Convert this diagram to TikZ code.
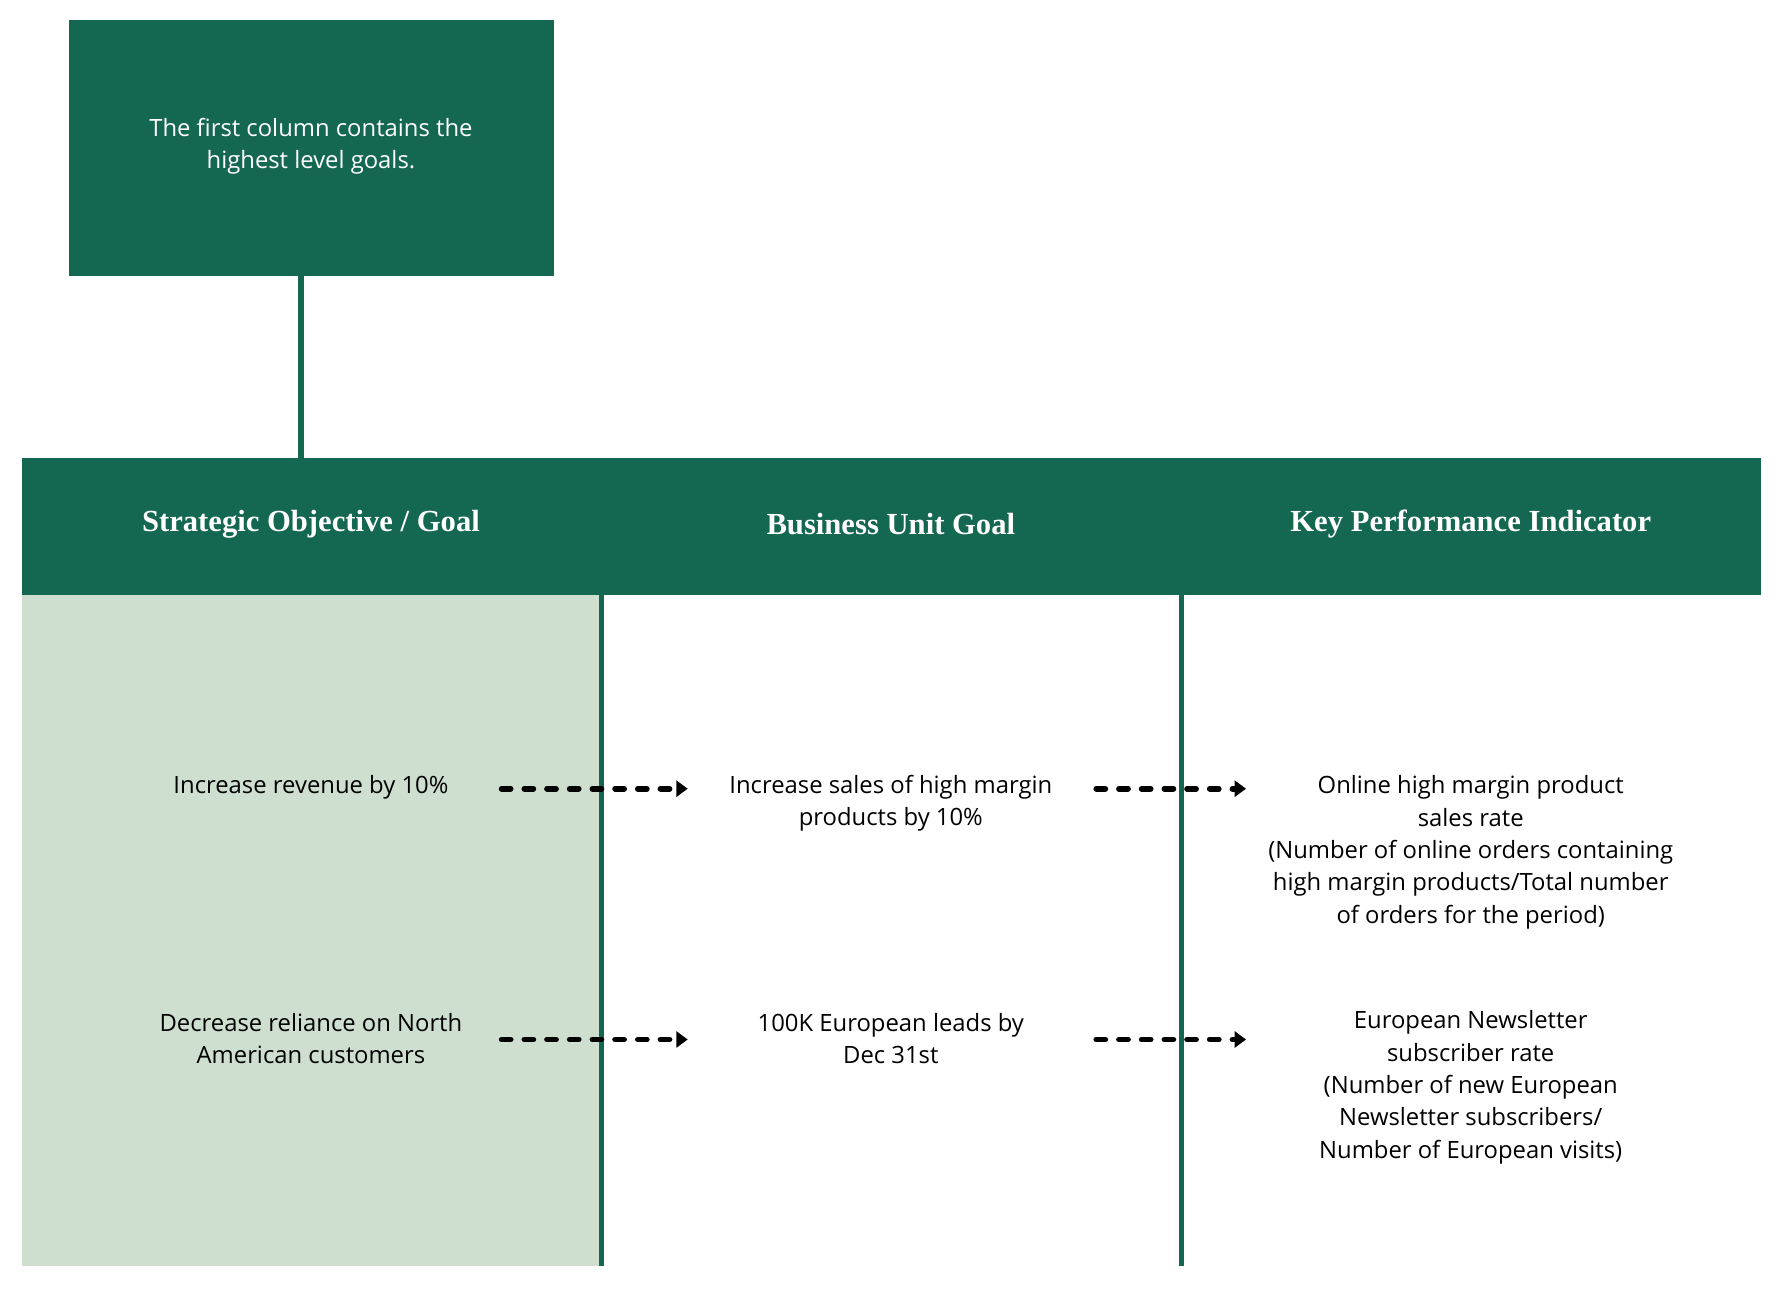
\documentclass[tikz,border=0pt]{standalone}
\usepackage{fontspec}
\setmainfont{Open Sans}
\newfontfamily\headfont{Liberation Serif}
\usetikzlibrary{arrows.meta}
\definecolor{darkgreen}{HTML}{146751}
\definecolor{palegreen}{HTML}{CEDFCF}
\tikzstyle{cell}=[align=center, text=black, font=\fontsize{10.5}{14.25}\selectfont]
\tikzstyle{head}=[text=white, font=\headfont\bfseries\fontsize{13.5}{16}\selectfont]
\tikzstyle{flow}=[line width=2.5pt, dash pattern=on 4pt off 6pt, line cap=round, -{Triangle[length=5pt,width=7pt]}]

\begin{document}
\begin{tikzpicture}[x=0.5pt, y=-0.5pt]
\useasboundingbox (0,0) rectangle (1565,1138);
% Panels
    \fill[darkgreen] (61,18) rectangle (488,243);
    \fill[darkgreen] (19,404) rectangle (1552,524);
    \fill[palegreen] (19,524) rectangle (530,1116);
    \draw[darkgreen, line width=2.5pt] (265,243) -- (265,404);
    \draw[darkgreen, line width=2.5pt] (530,524) -- (530,1116);
    \draw[darkgreen, line width=2.5pt] (1041,524) -- (1041,1116);
% Note
    \node[cell, text=white] (note) at (274,129) {The first column contains the\\highest level goals.};
% Headers
    \node[head] (hgoal) at (274,462) {Strategic Objective / Goal};
    \node[head] (hunit) at (785,462) {Business Unit Goal};
    \node[head] (hkpi) at (1296,462) {Key Performance Indicator};
% First row
    \node[cell] (goala) at (274,694) {Increase revenue by 10\%};
    \node[cell] (unita) at (785,708) {Increase sales of high margin\\products by 10\%};
    \node[cell] (kpia) at (1296,751) {Online high margin product\\sales rate\\(Number of online orders containing\\high margin products/Total number\\of orders for the period)};
% Second row
    \node[cell] (goalb) at (274,915) {Decrease reliance on North\\American customers};
    \node[cell] (unitb) at (785,915) {100K European leads by\\Dec 31st};
    \node[cell] (kpib) at (1296,958) {European Newsletter\\subscriber rate\\(Number of new European\\Newsletter subscribers/\\Number of European visits)};
% Links
    \coordinate (goalaout) at (442,695);
    \coordinate (unitain) at (606,695);
    \coordinate (unitaout) at (966,695);
    \coordinate (kpiain) at (1098,695);
    \coordinate (goalbout) at (442,916);
    \coordinate (unitbin) at (606,916);
    \coordinate (unitbout) at (966,916);
    \coordinate (kpibin) at (1098,916);
    \draw[flow] (goalaout) -- (unitain);
    \draw[flow] (unitaout) -- (kpiain);
    \draw[flow] (goalbout) -- (unitbin);
    \draw[flow] (unitbout) -- (kpibin);
\end{tikzpicture}
\end{document}
